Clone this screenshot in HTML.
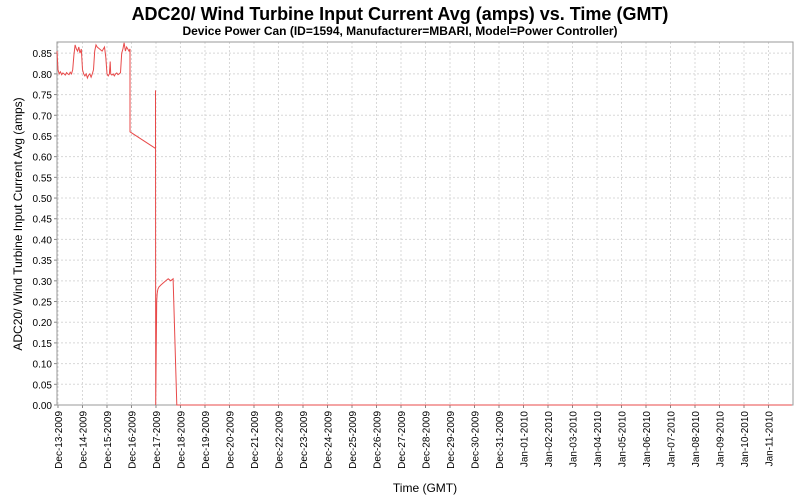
<!DOCTYPE html>
<html><head><meta charset="utf-8"><style>
body{margin:0;background:#fff;font-family:"Liberation Sans",sans-serif}
svg{display:block}
</style></head><body>
<svg id="c" width="800" height="500">
<text x="400" y="20" text-anchor="middle" font-size="18" font-weight="bold">ADC20/ Wind Turbine Input Current Avg (amps) vs. Time (GMT)</text>
<text x="400" y="35" text-anchor="middle" font-size="12" font-weight="bold">Device Power Can (ID=1594, Manufacturer=MBARI, Model=Power Controller)</text>
<text transform="translate(22,224) rotate(-90)" text-anchor="middle" font-size="12">ADC20/ Wind Turbine Input Current Avg (amps)</text>
<text x="425" y="492" text-anchor="middle" font-size="12">Time (GMT)</text>
<g id="grid"></g><g id="axes"></g><g id="series"></g>
</svg>
<script>
const xTickLabels=["Dec-13-2009","Dec-14-2009","Dec-15-2009","Dec-16-2009","Dec-17-2009","Dec-18-2009","Dec-19-2009","Dec-20-2009","Dec-21-2009","Dec-22-2009","Dec-23-2009","Dec-24-2009","Dec-25-2009","Dec-26-2009","Dec-27-2009","Dec-28-2009","Dec-29-2009","Dec-30-2009","Dec-31-2009","Jan-01-2010","Jan-02-2010","Jan-03-2010","Jan-04-2010","Jan-05-2010","Jan-06-2010","Jan-07-2010","Jan-08-2010","Jan-09-2010","Jan-10-2010","Jan-11-2010"];
const yTicks=[0,0.05,0.1,0.15,0.2,0.25,0.3,0.35,0.4,0.45,0.5,0.55,0.6,0.65,0.7,0.75,0.8,0.85];
// time in days since Dec-13-2009 00:00
const times=[-0.04,0.0,0.05,0.1,0.15,0.2,0.25,0.3,0.35,0.4,0.45,0.5,0.55,0.6,0.65,0.7,0.75,0.8,0.85,0.9,0.95,1.0,1.05,1.1,1.15,1.2,1.25,1.3,1.35,1.4,1.45,1.5,1.55,1.6,1.7,1.8,1.9,1.95,2.0,2.05,2.1,2.13,2.15,2.2,2.25,2.3,2.35,2.4,2.45,2.5,2.55,2.6,2.65,2.7,2.75,2.8,2.85,2.9,2.94,2.941,3.98,3.981,3.99,4.03,4.05,4.08,4.12,4.2,4.3,4.4,4.5,4.6,4.7,4.85,29.95];
const values=[0.855,0.81,0.80,0.805,0.798,0.802,0.80,0.797,0.803,0.80,0.798,0.804,0.80,0.81,0.845,0.87,0.86,0.855,0.865,0.85,0.86,0.81,0.80,0.795,0.80,0.79,0.797,0.80,0.792,0.80,0.81,0.855,0.87,0.865,0.86,0.855,0.865,0.84,0.80,0.795,0.80,0.83,0.80,0.797,0.80,0.795,0.80,0.802,0.798,0.80,0.803,0.85,0.86,0.875,0.855,0.865,0.86,0.855,0.86,0.66,0.62,0.76,0.0,0.25,0.27,0.28,0.285,0.29,0.295,0.30,0.305,0.30,0.305,0.0,0.0];
const L=57,R=793,T=42,B=405;
const x0=-0.04,x1=30.0,y0=0,y1=0.877;
const xs=d=>L+(d-x0)/(x1-x0)*(R-L);
const ys=v=>B-(v-y0)/(y1-y0)*(B-T);
const NS="http://www.w3.org/2000/svg";
function mk(t,a,p){const e=document.createElementNS(NS,t);for(const k in a)e.setAttribute(k,a[k]);p.appendChild(e);return e;}
const g=document.getElementById('grid'),ax=document.getElementById('axes'),s=document.getElementById('series');
mk('rect',{x:L,y:T,width:R-L,height:B-T,fill:'#fff',stroke:'none'},g);
yTicks.forEach(v=>{
 const y=ys(v);
 const l=mk('line',{x1:L,x2:R,y1:y,y2:y,stroke:'#d8d8d8','stroke-dasharray':'2,2'},g);
 
 
 mk('line',{x1:L-3,x2:L,y1:y,y2:y,stroke:'#888'},ax);
 const t=mk('text',{x:L-5,y:y+4,'text-anchor':'end','font-size':'10'},ax);
 t.textContent=v.toFixed(2);
 
 
});
xTickLabels.forEach((lab,i)=>{
 const x=xs(i);
 const l=mk('line',{x1:x,x2:x,y1:T,y2:B,stroke:'#d8d8d8','stroke-dasharray':'2,2'},g);
 
 
 mk('line',{x1:x,x2:x,y1:B,y2:B+3,stroke:'#888'},ax);
 const t=mk('text',{transform:`translate(${x+4},${B+6}) rotate(-90)`,'text-anchor':'end','font-size':'10'},ax);
 t.textContent=lab;
 
 
});
mk('rect',{x:L,y:T,width:R-L,height:B-T,fill:'none',stroke:'#999'},ax);
const p=mk('polyline',{points:times.map((d,i)=>xs(d).toFixed(1)+','+ys(values[i]).toFixed(1)).join(' '),fill:'none',stroke:'#e84a4a','stroke-width':'1'},s);


</script>
</body></html>
